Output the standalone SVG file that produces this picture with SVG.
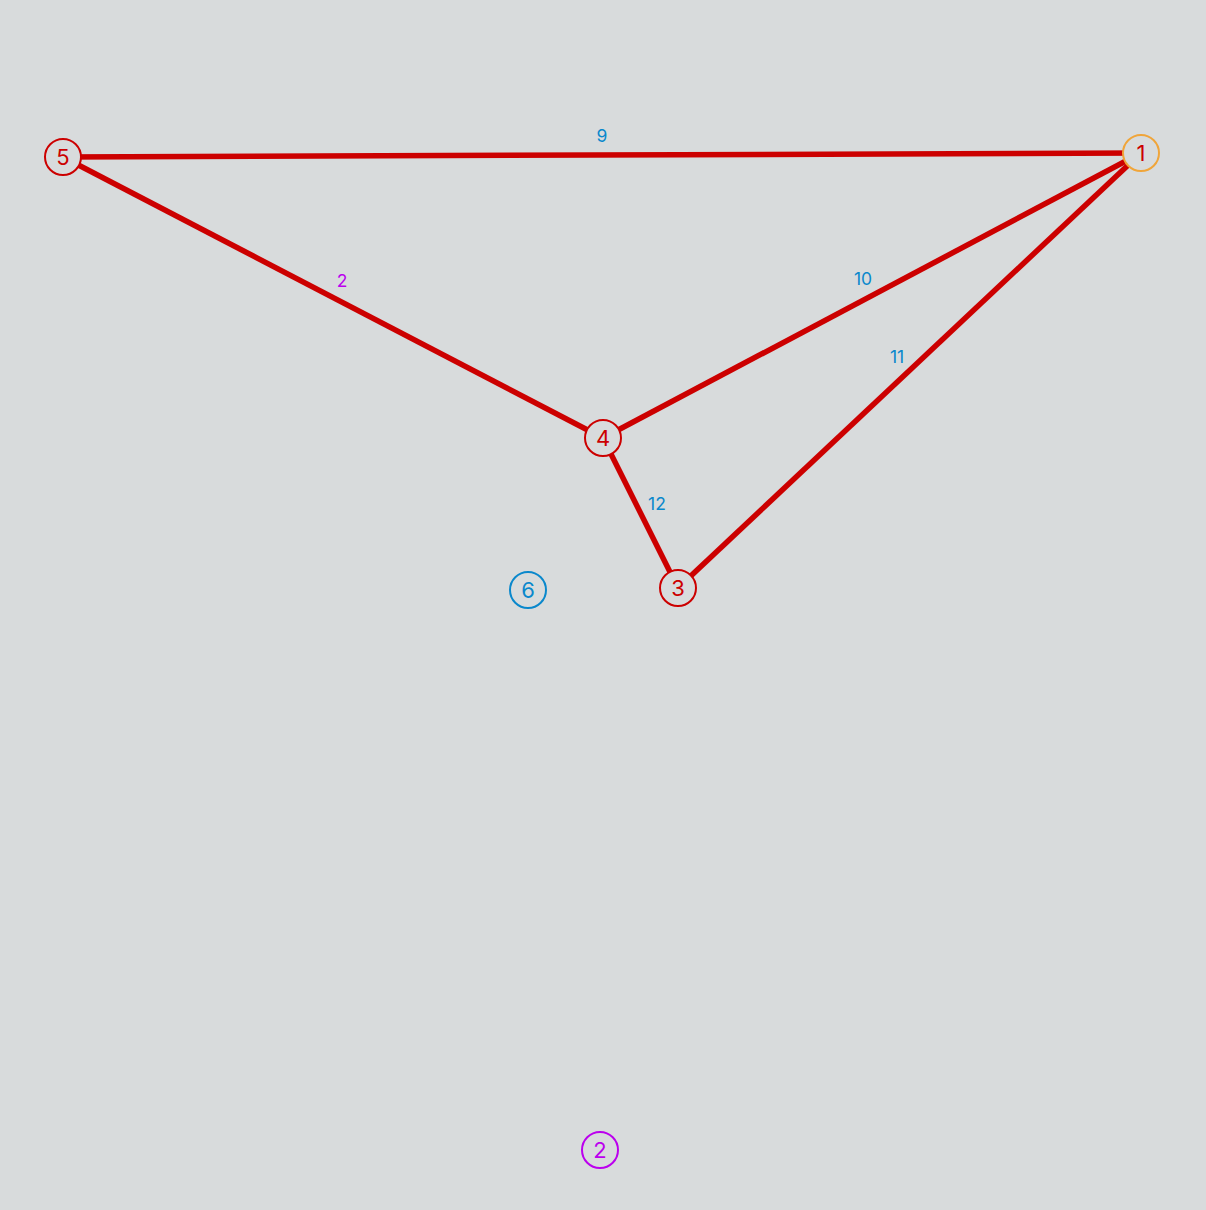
<svg xmlns="http://www.w3.org/2000/svg" width="1206" height="1210" viewBox="0 0 1206 1210">
<style>
.edge{stroke:#cc0000;stroke-width:5.5;fill:none;stroke-linecap:butt}
.node circle{fill:#d8dbdc;stroke-width:2}
.node text{font-family:Inter,"Noto Sans","Liberation Sans",sans-serif;font-size:22px;text-anchor:middle;dominant-baseline:central}
.lbl{font-family:Inter,"Noto Sans","Liberation Sans",sans-serif;font-size:17.5px;text-anchor:middle;dominant-baseline:central;fill:#0a88cc}
.red circle{stroke:#cc0000}.red text{fill:#cc0000}
</style>
<rect width="1206" height="1210" fill="#d8dbdc"/>
<g id="edges">
<line class="edge" x1="63" y1="157" x2="1141" y2="153"/>
<line class="edge" x1="63" y1="157" x2="603" y2="438"/>
<line class="edge" x1="603" y1="438" x2="1141" y2="153"/>
<line class="edge" x1="678" y1="588" x2="1141" y2="153"/>
<line class="edge" x1="603" y1="438" x2="678" y2="588"/>
<text class="lbl" x="602" y="135">9</text>
<text class="lbl" x="342" y="280" style="fill:#bb00ee">2</text>
<text class="lbl" x="863" y="278">10</text>
<text class="lbl" x="897" y="356">11</text>
<text class="lbl" x="657" y="503">12</text>
</g>
<g id="node5" class="node red"><circle cx="63" cy="157" r="18"/><text x="63" y="157">5</text></g>
<g id="node1" class="node"><circle cx="1141" cy="153" r="18" stroke="#f0a53a"/><text x="1141" y="153" fill="#cc0000">1</text></g>
<g id="node4" class="node red"><circle cx="603" cy="438" r="18"/><text x="603" y="438">4</text></g>
<g id="node3" class="node red"><circle cx="678" cy="588" r="18"/><text x="678" y="588">3</text></g>
<g id="node6" class="node"><circle cx="528" cy="590" r="18" stroke="#0a88cc"/><text x="528" y="590" fill="#0a88cc">6</text></g>
<g id="node2" class="node"><circle cx="600" cy="1150" r="18" stroke="#bb00ee"/><text x="600" y="1150" fill="#bb00ee">2</text></g>
</svg>
